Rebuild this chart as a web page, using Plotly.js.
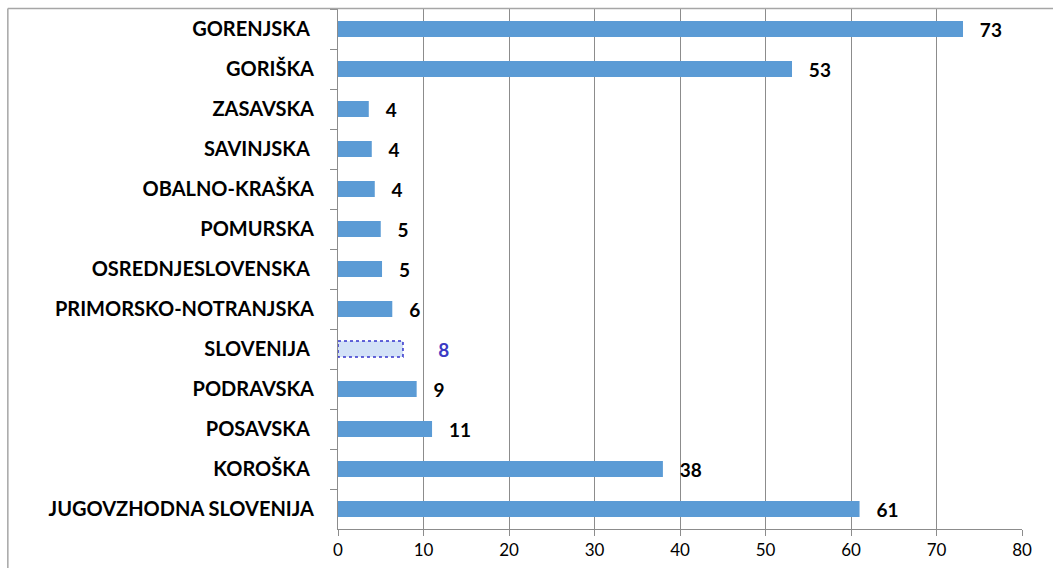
<!DOCTYPE html>
<html>
<head>
<meta charset="utf-8">
<script src="https://cdn.plot.ly/plotly-3.0.1.min.js"></script>
<style>
html,body{margin:0;padding:0;background:#fff;}
#chart{width:1053px;height:568px;}
</style>
</head>
<body>
<div id="chart"></div>
<script>
// Categories listed top to bottom (trailing spaces as in source labels)
var categories = [
  "GORENJSKA\u00A0", "GORIŠKA", "ZASAVSKA", "SAVINJSKA\u00A0", "OBALNO-KRAŠKA",
  "POMURSKA", "OSREDNJESLOVENSKA\u00A0", "PRIMORSKO-NOTRANJSKA", "SLOVENIJA\u00A0",
  "PODRAVSKA", "POSAVSKA\u00A0", "KOROŠKA\u00A0", "JUGOVZHODNA SLOVENIJA"
];
var values = [73.1, 53.1, 3.6, 3.95, 4.3, 5.0, 5.15, 6.35, 7.6, 9.2, 11.0, 38.0, 61.0];
var valueLabels = ["73", "53", "4", "4", "4", "5", "5", "6", "8", "9", "11", "38", "61"];
var highlightCategory = "SLOVENIJA\u00A0";
var xTicks = [0, 10, 20, 30, 40, 50, 60, 70, 80];

var hi = categories.indexOf(highlightCategory);
var pad = "\u00A0\u00A0\u00A0";
var padHi = "\u00A0\u00A0\u00A0\u00A0\u00A0\u00A0\u00A0";

var barColors = categories.map(function(c, i){ return i === hi ? "#d3e2f7" : "#5b9bd5"; });
var textColors = categories.map(function(c, i){ return i === hi ? "#3b3bc4" : "#000000"; });
var texts = valueLabels.map(function(t, i){ return (i === hi ? padHi : pad) + t; });

var trace = {
  type: "bar",
  orientation: "h",
  y: categories,
  x: values,
  text: texts,
  textposition: "outside",
  constraintext: "none",
  cliponaxis: false,
  textfont: {family: "Lato, 'Open Sans', sans-serif", size: 19, color: textColors, weight: 700},
  marker: {color: barColors, line: {width: 0}},
  hoverinfo: "none"
};

var layout = {
  width: 1053,
  height: 568,
  margin: {l: 338, r: 31, t: 8.5, b: 39, pad: 0},
  paper_bgcolor: "#ffffff",
  plot_bgcolor: "#ffffff",
  showlegend: false,
  bargap: 0.6,
  font: {family: "Lato, 'Open Sans', sans-serif", color: "#000"},
  xaxis: {
    range: [0, 80],
    tickvals: xTicks,
    ticktext: xTicks.map(String),
    showgrid: true,
    gridcolor: "#8c8c8c",
    gridwidth: 1,
    zeroline: false,
    showline: true,
    linecolor: "#8c8c8c",
    ticks: "outside",
    ticklen: 6,
    tickcolor: "#8c8c8c",
    tickfont: {size: 17, color: "#000", family: "Lato, sans-serif"},
    fixedrange: true
  },
  yaxis: {
    type: "category",
    autorange: "reversed",
    showgrid: false,
    zeroline: false,
    showline: true,
    linecolor: "#8c8c8c",
    ticks: "outside",
    tickson: "boundaries",
    ticklen: 7,
    tickcolor: "#8c8c8c",
    ticklabelstandoff: 19,
    tickfont: {size: 20, color: "#000", family: "Lato, sans-serif", weight: 700},
    fixedrange: true
  },
  shapes: [
    {
      type: "rect", xref: "x", yref: "y",
      x0: 0, x1: values[hi], y0: hi - 0.2, y1: hi + 0.2,
      line: {color: "#3333cc", width: 1.5, dash: "dot"},
      fillcolor: "rgba(0,0,0,0)"
    },
    {
      type: "line", xref: "paper", yref: "paper",
      x0: -0.4827, x1: -0.4827, y0: 1.001, y1: -0.08,
      line: {color: "#a6a6a6", width: 1.5}
    },
    {
      type: "line", xref: "paper", yref: "paper",
      x0: -0.4827, x1: 1.05, y0: 1.001, y1: 1.001,
      line: {color: "#a6a6a6", width: 1.5}
    }
  ]
};

Plotly.newPlot("chart", [trace], layout, {displayModeBar: false, staticPlot: true});
</script>
</body>
</html>
